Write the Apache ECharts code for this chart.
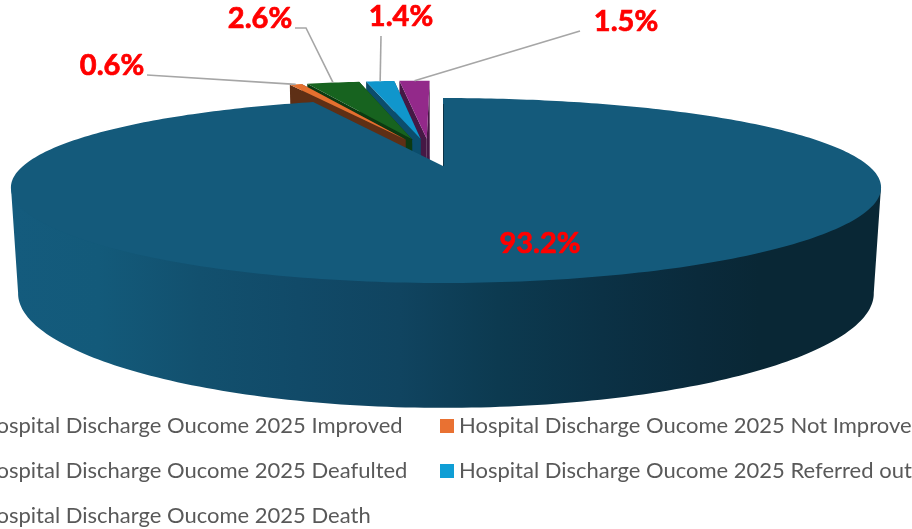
<!DOCTYPE html>
<html><head><meta charset="utf-8">
<style>html,body{margin:0;padding:0;background:#fff;overflow:hidden}#c{width:912px;height:529px}</style>
<script src="https://cdn.jsdelivr.net/npm/echarts@6/dist/echarts.min.js"></script>
</head><body><div id="c"></div>
<script>
const categories = ['Hospital Discharge Oucome 2025 Improved','Hospital Discharge Oucome 2025 Not Improve','Hospital Discharge Oucome 2025 Deafulted','Hospital Discharge Oucome 2025 Referred out','Hospital Discharge Oucome 2025 Death'];
const percents = [93.2, 0.6, 2.6, 1.4, 1.5];
const legendColors = ['#156082','#e97132','#196b24','#0f9ed5','#a02b93'];
const topColors = ['#145a7b','#e4702f','#17631f','#1096cc','#93298a'];
const wallColors = ['#145a7b','#5e2f15','#0c3a12','#0b4d6c','#451845'];
const labelAnchors = [[540,244],[112,66],[260,19],[401,17],[626,22]];
const leaderElbows = [null,[[147,75]],[[295,28],[306,28]],[[381,36]],[[580,31]]];

const total = percents.reduce((a,b)=>a+b,0);
const explode = 0.175;
const DEG = Math.PI/180;
const spans = []; let acc = 0;
percents.forEach(p=>{const a=acc/total*360; acc+=p; spans.push([a,acc/total*360]);});
const mid0 = (spans[0][0]+spans[0][1])/2*DEG;
function centerOf(i){
  if(i===0) return [0,0];
  const m=(spans[i][0]+spans[i][1])/2*DEG;
  return [explode*(Math.sin(m)-Math.sin(mid0)), explode*(-Math.cos(m)+Math.cos(mid0))];
}
function project(u,v,t){
  const w=1+0.017*t-0.265*v;
  const wx=1+0.016*t-0.235*v;
  const R=u<0?420:425.8;
  return [443+R*u/wx,(166+106.6*t+(42-7.9*t)*v)/w];
}
function rimPts(i,t,from,to,radius){
  const c=centerOf(i),pts=[],r=radius||1;
  const n=Math.max(2,Math.ceil(Math.abs(to-from)));
  for(let k=0;k<=n;k++){
    const a=(from+(to-from)*k/n)*DEG;
    pts.push(project(c[0]+r*Math.sin(a),c[1]-r*Math.cos(a),t));
  }
  return pts;
}
const mainWall={type:'linear',x:11,y:0,x2:881,y2:0,global:true,colorStops:[
  {offset:0,color:'#145b7d'},{offset:0.10,color:'#135a7a'},{offset:0.217,color:'#12506e'},
  {offset:0.33,color:'#114a68'},{offset:0.447,color:'#104460'},{offset:0.56,color:'#0c3a50'},
  {offset:0.68,color:'#0b3145'},{offset:0.79,color:'#0a2a3b'},{offset:0.86,color:'#092735'},{offset:1,color:'#092735'}]};
function poly(points,fill){return {type:'polygon',shape:{points},style:{fill,stroke:null}};}
function renderSlice(i){
  const [a0,a1]=spans[i],c=centerOf(i),kids=[];
  const topRim=rimPts(i,0,a0,a1);
  const apexT=project(c[0],c[1],0),apexB=project(c[0],c[1],1);
  if(i===0){
    const front0=103,front1=257;
    const band=[rimPts(0,0,front0,front0)[0]].concat(rimPts(0,0,front0,front1,0.985),[rimPts(0,0,front1,front1)[0]],rimPts(0,1,front0,front1).reverse());
    kids.push(poly(band,mainWall));
  } else {
    const botRim=rimPts(i,1,a0,a1),wall=wallColors[i];
    kids.push(poly([apexT,topRim[topRim.length-1],botRim[botRim.length-1],apexB],wall));
    kids.push(poly([apexT,topRim[0],botRim[0],apexB],wall));
  }
  kids.push(poly([apexT].concat(topRim),topColors[i]));
  if(i===0){
    kids.push({type:'line',shape:{x1:apexT[0]+0.5,y1:apexT[1],x2:topRim[0][0]+0.5,y2:topRim[0][1]+6},style:{stroke:'#0b3246',lineWidth:1}});
  }
  const lab=labelAnchors[i];
  if(leaderElbows[i]){
    const m=(a0+a1)/2*DEG;
    const end=project(c[0]+Math.sin(m),c[1]-Math.cos(m),0);
    kids.push({type:'polyline',shape:{points:leaderElbows[i].concat([end])},style:{stroke:'#a6a6a6',lineWidth:1.6,fill:null}});
  }
  kids.push({type:'text',style:{x:lab[0],y:lab[1],text:percents[i].toFixed(1)+'%',fill:'#ff0000',stroke:'#ff0000',lineWidth:0.7,font:'bold 29px Lato',align:'center',verticalAlign:'middle'}});
  return {type:'group',children:kids};
}
const drawOrder=[4,3,2,1,0];
const series=drawOrder.map(i=>({
  type:'custom',name:categories[i],coordinateSystem:'none',silent:true,animation:false,
  itemStyle:{color:legendColors[i]},
  data:[[percents[i]]],
  renderItem:()=>renderSlice(i)
}));
const legendBase={orient:'vertical',itemWidth:14,itemHeight:14,icon:'rect',itemGap:23,selectedMode:false,height:200,
  textStyle:{fontFamily:'Lato',fontSize:22,color:'#595959'}};
const chart=echarts.init(document.getElementById('c'),null,{renderer:'canvas'});
chart.setOption({
  animation:false,backgroundColor:'#fff',
  legend:[
    Object.assign({},legendBase,{left:-44,top:410,data:[categories[0],categories[2],categories[4]]}),
    Object.assign({},legendBase,{left:435,top:410,data:[categories[1],categories[3]]})
  ],
  series
});
</script></body></html>
